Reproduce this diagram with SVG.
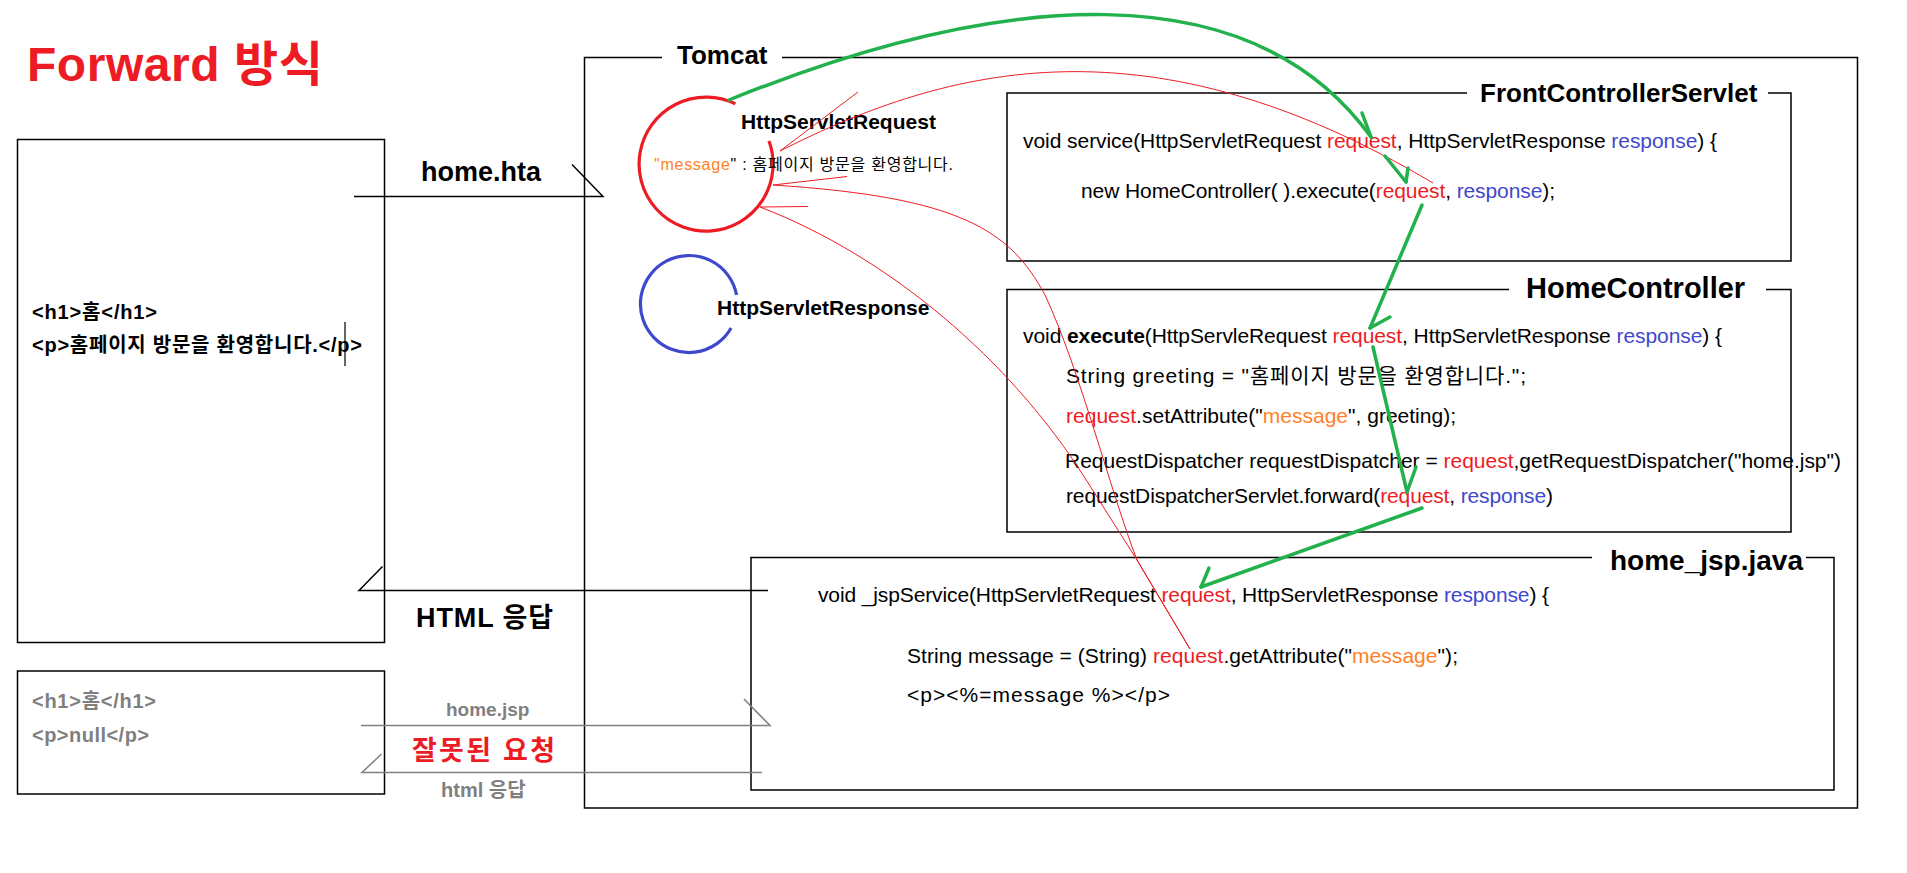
<svg xmlns="http://www.w3.org/2000/svg" width="1907" height="873" viewBox="0 0 1907 873">
<style>
text{font-family:"Liberation Sans","Noto Sans CJK KR",sans-serif;}
.b{font-weight:bold;}
.box{fill:none;stroke:#000;stroke-width:1.5;}
.code{font-size:21px;fill:#000;}
.r{fill:#ed1c24;}
.bl{fill:#3f48cc;}
.o{fill:#ff7f27;}
.gray{fill:#7f7f7f;}
.gl{stroke:#7f7f7f;stroke-width:1.5;fill:none;}
.bk{stroke:#000;stroke-width:1.5;fill:none;}
.rl{stroke:#ed1c24;stroke-width:1;fill:none;}
.gr{stroke:#22b14c;stroke-width:3.5;fill:none;stroke-linecap:round;}
</style>
<rect x="0" y="0" width="1907" height="873" fill="#fff"/>
<text id="title" x="27" y="81" class="b" font-size="48" fill="#ed1c24" textLength="296">Forward 방식</text>

<g id="browser1">
<rect class="box" x="17.5" y="139.5" width="367" height="503"/>
<text x="32" y="319" class="b" font-size="20" textLength="125">&lt;h1&gt;홈&lt;/h1&gt;</text>
<text x="32" y="352" class="b" font-size="20" textLength="330">&lt;p&gt;홈페이지 방문을 환영합니다.&lt;/p&gt;</text>
<line x1="345" y1="322" x2="345" y2="366" stroke="#000" stroke-width="1.2"/>
</g>

<g id="browser2">
<rect class="box" x="17.5" y="671" width="367" height="123"/>
<text x="32" y="708" class="b gray" font-size="20" textLength="124">&lt;h1&gt;홈&lt;/h1&gt;</text>
<text x="32" y="742" class="b gray" font-size="20" textLength="117">&lt;p&gt;null&lt;/p&gt;</text>
</g>

<g id="tomcat">
<path class="box" d="M662,57.5 H584.5 V808 H1857.5 V57.5 H782"/>
<text x="677" y="64" class="b" font-size="26">Tomcat</text>
</g>

<g id="request-obj">
<path d="M769,141 A67,67 0 1 1 735.4,103.8" fill="none" stroke="#ed1c24" stroke-width="3.2"/>
<text x="741" y="129" class="b" font-size="21">HttpServletRequest</text>
<text x="654" y="170" font-size="16" textLength="299"><tspan class="o">"message</tspan>" : 홈페이지 방문을 환영합니다.</text>
</g>

<g id="response-obj">
<path d="M731.1,328 A48.5,48.5 0 1 1 736.6,295" fill="none" stroke="#3f48cc" stroke-width="3.2"/>
<text x="717" y="315" class="b" font-size="21">HttpServletResponse</text>
</g>

<g id="front-controller">
<path class="box" d="M1467,93 H1007 V261 H1791 V93 H1768"/>
<text x="1480" y="102" class="b" font-size="26">FrontControllerServlet</text>
<text x="1023" y="148" class="code" textLength="694">void service(HttpServletRequest <tspan class="r">request</tspan>, HttpServletResponse <tspan class="bl">response</tspan>) {</text>
<text x="1081" y="198" class="code" textLength="474">new HomeController( ).execute(<tspan class="r">request</tspan>, <tspan class="bl">response</tspan>);</text>
</g>

<g id="home-controller">
<path class="box" d="M1509,289.5 H1007 V532 H1791 V289.5 H1766"/>
<text x="1526" y="298" class="b" font-size="29">HomeController</text>
<text x="1023" y="343" class="code" textLength="699">void <tspan class="b">execute</tspan>(HttpServleRequest <tspan class="r">request</tspan>, HttpServletResponse <tspan class="bl">response</tspan>) {</text>
<text x="1066" y="383" class="code" textLength="460">String greeting = "홈페이지 방문을 환영합니다.";</text>
<text x="1066" y="423" class="code" textLength="390"><tspan class="r">request</tspan>.setAttribute("<tspan class="o">message</tspan>", greeting);</text>
<text x="1065" y="468" class="code" textLength="776">RequestDispatcher requestDispatcher = <tspan class="r">request</tspan>,getRequestDispatcher("home.jsp")</text>
<text x="1066" y="503" class="code" textLength="487">requestDispatcherServlet.forward(<tspan class="r">request</tspan>, <tspan class="bl">response</tspan>)</text>
</g>

<g id="home-jsp">
<path class="box" d="M1592,557.5 H751 V790 H1834 V557.5 H1806"/>
<text x="1610" y="570" class="b" font-size="28">home_jsp.java</text>
<text x="818" y="602" class="code" textLength="731">void _jspService(HttpServletRequest <tspan class="r">request</tspan>, HttpServletResponse <tspan class="bl">response</tspan>) {</text>
<text x="907" y="663" class="code" textLength="551">String message = (String) <tspan class="r">request</tspan>.getAttribute("<tspan class="o">message</tspan>");</text>
<text x="907" y="702" class="code" textLength="263">&lt;p&gt;&lt;%=message %&gt;&lt;/p&gt;</text>
</g>

<g id="connectors">
<!-- home.hta request -->
<path class="bk" d="M354,196.5 H603 L572,164.5"/>
<text x="421" y="181" class="b" font-size="27">home.hta</text>
<!-- HTML response -->
<path class="bk" d="M768,590.5 H359 L382.5,566.5"/>
<text x="416" y="627" class="b" font-size="27" textLength="137">HTML 응답</text>
<!-- home.jsp wrong request -->
<path class="gl" d="M361,725.5 H770 L744,699"/>
<text x="446" y="716" class="b gray" font-size="19">home.jsp</text>
<text x="412" y="760" class="b r" font-size="27" textLength="143">잘못된 요청</text>
<path class="gl" d="M762,772.5 H362 L381.5,754"/>
<text x="441" y="797" class="b gray" font-size="20">html 응답</text>

<!-- red reference lines -->
<path class="rl" d="M780,151 C 950,65 1150,15 1433,183"/>
<line class="rl" x1="780" y1="151" x2="858" y2="92"/>
<path class="rl" d="M773,185 C 960,197 1010,230 1045,295 C 1080,370 1110,490 1137,560 L1190,649"/>
<line class="rl" x1="773" y1="185" x2="847" y2="176.5"/>
<path class="rl" d="M760,207 C 890,257 1010,360 1085,478 L1137,560 L1190,649"/>
<line class="rl" x1="760" y1="207" x2="808" y2="206.5"/>

<!-- green flow -->
<path class="gr" d="M729,100 C 1000,-10 1250,-30 1371,137"/>
<line class="gr" x1="1362" y1="113" x2="1371" y2="137"/>
<line class="gr" x1="1385" y1="156" x2="1406" y2="182"/>
<line class="gr" x1="1408" y1="168" x2="1406" y2="182"/>
<line class="gr" x1="1422" y1="205" x2="1370" y2="328"/>
<line class="gr" x1="1390" y1="317" x2="1370" y2="328"/>
<line class="gr" x1="1373" y1="347" x2="1407" y2="492"/>
<line class="gr" x1="1416" y1="467" x2="1407" y2="492"/>
<line class="gr" x1="1422" y1="508" x2="1201" y2="587"/>
<line class="gr" x1="1209" y1="568" x2="1201" y2="587"/>
</g>
</svg>
